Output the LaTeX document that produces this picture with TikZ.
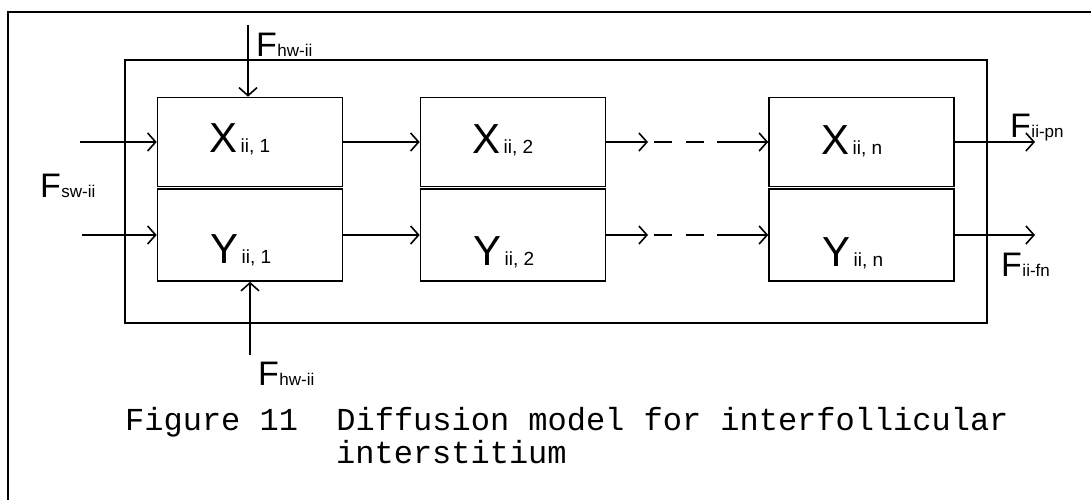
\documentclass[tikz,border=0pt]{standalone}
\usepackage{fontspec}
\setmainfont{Liberation Sans}
\newfontfamily\capfont{Liberation Mono}
\usetikzlibrary{arrows.meta}
\newcommand\Fl[1]{{\fontsize{34}{34}\selectfont F}\kern0.5pt{\fontsize{17}{17}\selectfont #1}}
\newcommand\Bl[2]{{\fontsize{42}{42}\selectfont #1}\kern3pt{\fontsize{19}{19}\selectfont #2}}
\begin{document}
\begin{tikzpicture}[x=1pt,y=-1pt,
  line/.style={line width=1.6pt},
  arr/.style={line, -{Straight Barb[length=8pt,width=18pt,line width=1.6pt]}},
  dashline/.style={line, dash pattern=on 18pt off 14pt, dash phase=26pt},
  xbox/.style={draw, line, minimum width=185pt, minimum height=89pt, inner sep=0pt},
  ybox/.style={draw, line, minimum width=185pt, minimum height=92pt, inner sep=0pt},
  lab/.style={inner sep=0pt, anchor=base west},
  blab/.style={inner sep=0pt, anchor=base},
  capt/.style={inner sep=0pt, anchor=base west, font=\capfont\fontsize{32}{32}\selectfont}
]
\useasboundingbox (0,0) rectangle (1091,500);
% outer frame (open at right and bottom)
\draw[line] (8,500) -- (8,12) -- (1091,12);
% inner frame
\node[draw, line, minimum width=862pt, minimum height=263pt, inner sep=0pt] (frame) at (556,191.5) {};
% boxes
\node[xbox] (x1) at (250,142) {};
\node[ybox] (y1) at (250,235) {};
\node[xbox] (x2) at (513,142) {};
\node[ybox] (y2) at (513,235) {};
\node[xbox] (x3) at (861.5,142) {};
\node[ybox] (y3) at (861.5,235) {};
% box labels
\node[blab] (lx1) at (240,152) {\Bl{X}{ii, 1}};
\node[blab] (ly1) at (241,263) {\Bl{Y}{ii, 1}};
\node[blab] (lx2) at (503,153) {\Bl{X}{ii, 2}};
\node[blab] (ly2) at (504,265) {\Bl{Y}{ii, 2}};
\node[blab] (lx3) at (852,154) {\Bl{X}{ii, n}};
\node[blab] (ly3) at (853,266) {\Bl{Y}{ii, n}};
% coordinates
\coordinate (sx) at (80,142);
\coordinate (sy) at (82,235);
\coordinate (ht) at (248,25);
\coordinate (hb) at (250,355);
\coordinate (a1) at (648,142);
\coordinate (b1) at (717,142);
\coordinate (a2) at (648,235);
\coordinate (b2) at (717,235);
\coordinate (ox) at (1035,142);
\coordinate (oy) at (1035,235);
% connectors
\draw[arr] (sx) -- (sx -| x1.west);
\draw[arr] (sy) -- (sy -| y1.west);
\draw[arr] (ht) -- (ht |- x1.north);
\draw[arr] (hb) -- (hb |- y1.south);
\draw[arr] (x1.east) -- (x2.west);
\draw[arr] (y1.east) -- (y2.west);
\draw[arr] (x2.east) -- (a1);
\draw[arr] (y2.east) -- (a2);
\draw[dashline] (a1) -- (b1);
\draw[dashline] (a2) -- (b2);
\draw[arr] (b1) -- (x3.west);
\draw[arr] (b2) -- (y3.west);
\draw[arr] (x3.east) -- (ox);
\draw[arr] (y3.east) -- (oy);
% flow labels
\node[lab] (fhwt) at (256,57) {\Fl{hw-ii}};
\node[lab] (fsw) at (40,197) {\Fl{sw-ii}};
\node[lab] (fhwb) at (258,385) {\Fl{hw-ii}};
\node[lab] (fpn) at (1010,137) {\Fl{ii-pn}};
\node[lab] (ffn) at (1001,276) {\Fl{ii-fn}};
% caption
\node[capt] (cap1) at (125,430) {Figure 11\ \ Diffusion model for interfollicular};
\node[capt] (cap2) at (336,463) {interstitium};
\end{tikzpicture}
\end{document}
